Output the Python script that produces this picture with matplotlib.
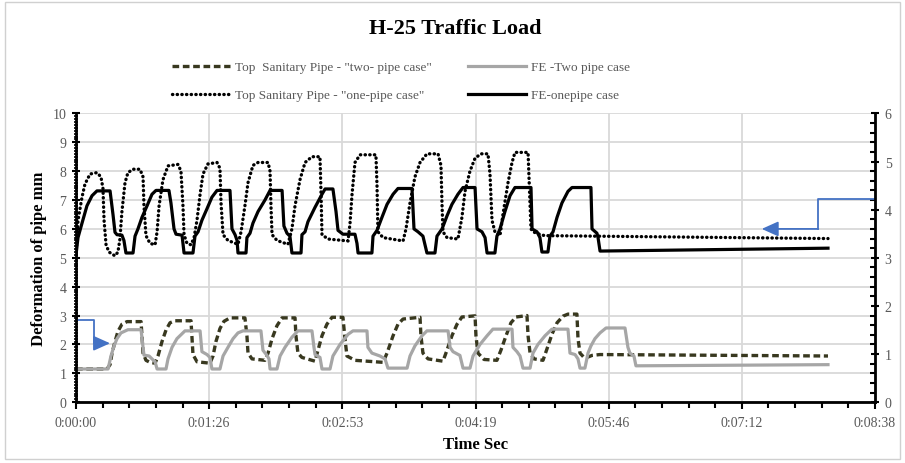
import matplotlib
matplotlib.use('Agg')
import matplotlib.pyplot as plt
from matplotlib.ticker import MultipleLocator, FuncFormatter
from matplotlib.patches import Rectangle

plt.rcParams['font.family'] = ['Liberation Serif', 'DejaVu Serif']

# 时间 (秒), 左轴数值 mm  —— two-pipe case (左轴)
t_two_top = [0.0, 20.1, 22.1, 23.4, 25.3, 27.2, 29.8, 33.1, 42.2, 42.8, 43.5, 45.4, 48.0, 51.3,
             53.2, 55.8, 58.4, 61.0, 64.2, 74.6, 75.3, 75.9, 78.5, 86.9, 88.9, 90.8, 93.4, 96.0,
             99.9, 109.6, 110.9, 111.6, 114.2, 122.6, 124.6, 127.2, 130.4, 133.7, 142.1, 142.7,
             144.0, 146.6, 155.1, 157.0, 159.6, 162.8, 166.1, 173.2, 174.5, 175.8, 181.0, 199.2,
             201.8, 205.7, 208.9, 212.2, 223.2, 223.8, 225.1, 228.4, 238.1, 240.7, 243.9, 247.2,
             250.4, 258.9, 259.5, 260.8, 264.7, 273.1, 275.7, 279.0, 282.2, 285.5, 292.6, 293.3,
             294.6, 297.2, 303.0, 305.6, 308.8, 312.1, 316.0, 319.2, 325.0, 325.7, 327.0, 329.6,
             331.5, 334.8, 340.0, 487.9]
v_two_top = [1.15, 1.15, 1.3, 1.7, 2.1, 2.45, 2.7, 2.79, 2.79, 2.3, 1.7, 1.45, 1.38, 1.35,
             1.6, 2.1, 2.5, 2.75, 2.82, 2.82, 2.2, 1.65, 1.4, 1.35, 1.6, 2.1, 2.55, 2.8,
             2.92, 2.92, 2.3, 1.7, 1.5, 1.45, 1.7, 2.2, 2.65, 2.92, 2.92, 2.3,
             1.7, 1.55, 1.42, 1.8, 2.3, 2.7, 2.94, 2.94, 2.2, 1.6, 1.45, 1.38,
             1.7, 2.3, 2.7, 2.88, 2.94, 2.3, 1.7, 1.5, 1.42, 1.8, 2.3, 2.7,
             2.95, 2.99, 2.3, 1.7, 1.48, 1.45, 1.8, 2.3, 2.75, 2.95, 3.0, 2.3,
             1.7, 1.5, 1.45, 1.85, 2.35, 2.75, 2.98, 3.05, 3.05, 2.2, 1.7, 1.55,
             1.55, 1.62, 1.65, 1.60]

t_two_fe = [0.0, 20.8, 22.7, 24.7, 26.6, 29.2, 33.7, 42.2, 43.5, 44.1, 47.4, 49.3, 51.3, 52.6,
            58.4, 59.7, 62.3, 65.5, 70.7, 80.5, 81.7, 85.0, 86.9, 88.2, 93.4, 95.4, 98.6, 101.9,
            105.1, 108.3, 120.0, 121.3, 123.9, 125.2, 125.9, 130.4, 132.4, 135.6, 140.1, 144.0,
            153.1, 154.4, 155.1, 158.3, 159.6, 164.8, 166.7, 171.3, 176.5, 179.7, 188.8, 189.4,
            192.0, 197.2, 200.5, 202.4, 214.8, 216.7, 219.9, 224.5, 227.7, 241.4, 242.7, 244.6,
            249.1, 251.1, 255.6, 257.6, 262.1, 266.7, 270.5, 282.9, 283.5, 286.1, 288.1, 290.0,
            294.6, 296.5, 299.7, 304.3, 308.8, 319.2, 320.5, 323.8, 325.7, 327.0, 330.2, 332.2,
            334.1, 336.7, 340.0, 343.9, 356.2, 358.1, 359.4, 362.0, 363.3, 487.9]
v_two_fe = [1.15, 1.15, 1.6, 1.95, 2.2, 2.4, 2.51, 2.51, 1.9, 1.63, 1.6, 1.5, 1.4, 1.15,
            1.15, 1.5, 1.9, 2.2, 2.47, 2.47, 1.75, 1.65, 1.55, 1.15, 1.15, 1.6, 1.9, 2.2,
            2.4, 2.47, 2.47, 1.8, 1.62, 1.5, 1.15, 1.15, 1.6, 1.9, 2.25, 2.47,
            2.47, 1.9, 1.65, 1.55, 1.15, 1.15, 1.6, 2.0, 2.35, 2.47, 2.47, 1.9,
            1.7, 1.6, 1.5, 1.18, 1.18, 1.6, 1.95, 2.3, 2.47, 2.47, 1.9, 1.75,
            1.62, 1.18, 1.18, 1.6, 2.0, 2.3, 2.53, 2.53, 1.9, 1.75, 1.6, 1.18,
            1.18, 1.7, 2.0, 2.3, 2.53, 2.53, 1.7, 1.65, 1.5, 1.18, 1.18, 1.7,
            1.95, 2.2, 2.4, 2.57, 2.57, 1.9, 1.7, 1.6, 1.26, 1.30]

# one-pipe case (右轴, 0-6)
t_one_top = [0.0, 1.3, 3.9, 5.8, 9.1, 13.6, 16.2, 17.5, 18.2, 19.5, 21.4, 25.3, 27.2, 28.5,
             29.8, 31.8, 33.7, 37.0, 41.5, 43.5, 44.1, 45.4, 48.0, 51.3, 52.6, 53.9, 56.4, 59.7,
             66.2, 68.1, 69.4, 70.1, 72.0, 74.6, 76.6, 78.5, 80.5, 82.4, 85.6, 91.5, 93.4, 94.1,
             95.4, 98.6, 105.1, 107.1, 109.6, 111.6, 114.8, 118.1, 124.6, 125.9, 126.5, 127.2,
             130.4, 137.5, 140.1, 142.1, 145.3, 148.6, 153.1, 158.3, 159.0, 159.6, 163.5, 176.5,
             177.8, 179.1, 181.0, 184.3, 194.6, 195.3, 195.9, 199.2, 212.2, 214.1, 216.7, 219.9,
             223.2, 227.7, 234.9, 236.8, 237.5, 238.1, 240.7, 247.8, 250.4, 252.4, 255.6, 258.9,
             262.8, 267.3, 268.6, 269.9, 271.8, 275.1, 277.0, 280.3, 282.9, 284.8, 293.3, 293.9,
             295.2, 296.5, 302.3, 305.6, 487.9]
v_one_top = [3.06, 3.78, 4.26, 4.53, 4.74, 4.77, 4.68, 4.44, 3.78, 3.27, 3.12, 3.04, 3.12, 3.39,
             3.96, 4.56, 4.77, 4.84, 4.84, 4.68, 4.08, 3.46, 3.30, 3.27, 3.54, 4.08, 4.62, 4.91,
             4.94, 4.80, 4.08, 3.48, 3.30, 3.27, 3.42, 3.78, 4.32, 4.74, 4.95, 4.98, 4.86, 4.14,
             3.48, 3.36, 3.28, 3.54, 4.08, 4.56, 4.92, 4.98, 4.98, 4.80, 4.08, 3.48,
             3.36, 3.28, 3.60, 4.08, 4.62, 4.98, 5.10, 5.10, 4.32, 3.48, 3.39, 3.35,
             3.72, 4.32, 4.98, 5.14, 5.14, 4.50, 3.54, 3.42, 3.35, 3.60, 4.14, 4.68,
             4.98, 5.16, 5.16, 4.92, 4.08, 3.54, 3.42, 3.39, 3.84, 4.38, 4.80, 5.07,
             5.16, 5.16, 4.74, 3.78, 3.54, 3.46, 3.90, 4.56, 4.98, 5.19, 5.19, 4.68,
             3.60, 3.54, 3.47, 3.46, 3.40]

t_one_fe = [0.0, 1.3, 3.9, 7.1, 10.4, 13.6, 22.1, 24.0, 25.3, 26.6, 29.8, 31.1, 32.4, 37.0,
            38.3, 40.2, 42.8, 46.1, 49.3, 51.9, 60.3, 61.6, 63.6, 64.9, 68.8, 70.1, 75.9, 77.2,
            79.2, 81.7, 85.0, 88.2, 91.5, 99.9, 101.2, 103.2, 104.5, 105.1, 110.3, 110.9, 112.9,
            114.8, 118.1, 122.6, 125.9, 133.7, 134.9, 136.9, 138.8, 140.1, 146.0, 146.6, 148.6,
            150.5, 155.1, 159.6, 161.6, 166.7, 168.7, 170.0, 173.2, 181.0, 182.3, 183.0, 192.0,
            192.7, 195.3, 198.5, 201.8, 205.7, 208.9, 218.0, 219.3, 221.9, 225.1, 227.7, 232.9,
            234.2, 237.5, 240.7, 243.9, 247.8, 251.1, 258.9, 260.2, 263.4, 265.4, 266.7, 271.8,
            273.1, 275.1, 278.3, 281.6, 284.8, 295.2, 295.9, 299.1, 301.0, 302.3, 306.2, 307.5,
            309.5, 312.1, 315.3, 319.2, 321.8, 334.1, 334.8, 338.0, 338.7, 340.0, 487.9]
v_one_fe = [3.06, 3.42, 3.72, 4.08, 4.29, 4.39, 4.39, 3.90, 3.53, 3.48, 3.47, 3.36, 3.10, 3.10,
            3.45, 3.60, 3.84, 4.08, 4.32, 4.40, 4.40, 4.14, 3.60, 3.49, 3.47, 3.10, 3.10, 3.45,
            3.54, 3.78, 4.02, 4.26, 4.40, 4.40, 3.60, 3.48, 3.36, 3.10, 3.10, 3.42, 3.51,
            3.72, 3.96, 4.20, 4.40, 4.40, 3.66, 3.51, 3.45, 3.10, 3.10, 3.48, 3.54,
            3.75, 4.05, 4.32, 4.43, 4.43, 3.96, 3.57, 3.49, 3.49, 3.30, 3.10, 3.10,
            3.45, 3.57, 3.84, 4.11, 4.32, 4.44, 4.44, 3.60, 3.54, 3.45, 3.10, 3.10,
            3.45, 3.60, 3.87, 4.11, 4.32, 4.46, 4.46, 3.60, 3.54, 3.42, 3.10, 3.10,
            3.45, 3.60, 3.96, 4.29, 4.46, 4.46, 3.60, 3.54, 3.42, 3.12, 3.12, 3.45,
            3.54, 3.84, 4.14, 4.38, 4.46, 4.46, 3.60, 3.51, 3.42, 3.14, 3.20]

x_ticks = [0, 86.4, 172.8, 259.2, 345.6, 432.0, 518.4]

label_two_top = 'Top  Sanitary Pipe - "two- pipe case"'
label_one_top = 'Top Sanitary Pipe - "one-pipe case"'
label_two_fe = 'FE -Two pipe case'
label_one_fe = 'FE-onepipe case'

TICK_COLOR = '#595959'
BLUE = '#4472C4'


def fmt_time(t, pos=None):
    s = int(round(t))
    return f"{s // 3600}:{(s // 60) % 60:02d}:{s % 60:02d}"


fig = plt.figure(figsize=(9.05, 4.64), dpi=100)
fig.patches.append(Rectangle((0.005, 0.008), 0.99, 0.985, transform=fig.transFigure,
                             fill=False, edgecolor='#d0d0d0', lw=1.0))

ax = fig.add_axes([76 / 905, (464 - 403.2) / 464, (875 - 76) / 905, (403.2 - 114.4) / 464])
ax2 = ax.twinx()

l1, = ax.plot(t_two_top, v_two_top, color='#38381f', lw=2.4, ls=(0, (2.0, 1.1)),
              dash_capstyle='butt', label=label_two_top)
l2, = ax.plot(t_two_fe, v_two_fe, color='#a6a6a6', lw=2.3, label=label_two_fe)
l3, = ax2.plot(t_one_top, v_one_top, color='black', lw=2.4, ls=(0, (0.1, 1.3)),
               dash_capstyle='round', label=label_one_top)
l4, = ax2.plot(t_one_fe, v_one_fe, color='black', lw=2.3, label=label_one_fe)

ax.set_xlim(0, 518.4)
ax.set_ylim(0, 10)
ax2.set_ylim(0, 6)

ax.set_xticks(x_ticks)
ax.xaxis.set_minor_locator(MultipleLocator(17.28))
ax.xaxis.set_major_formatter(FuncFormatter(fmt_time))
ax.yaxis.set_major_locator(MultipleLocator(1))
ax.yaxis.set_minor_locator(MultipleLocator(0.1))
ax2.yaxis.set_major_locator(MultipleLocator(1))
ax2.yaxis.set_minor_locator(MultipleLocator(0.2))

ax.grid(which='major', color='#d9d9d9', lw=1.3)
ax.set_axisbelow(True)

for a in (ax, ax2):
    a.spines['top'].set_visible(False)
ax.spines['right'].set_visible(False)
ax2.spines['left'].set_visible(False)
ax2.spines['bottom'].set_visible(False)
ax.spines['left'].set_linewidth(2)
ax.spines['bottom'].set_linewidth(2)
ax2.spines['right'].set_linewidth(2)

ax.tick_params(axis='x', which='major', direction='out', length=5, width=1.5,
               labelsize=10, labelcolor=TICK_COLOR, pad=5)
ax.tick_params(axis='x', which='minor', direction='out', length=4, width=1.5)
ax.tick_params(axis='y', which='major', direction='inout', length=6, width=1.5,
               labelsize=10, labelcolor=TICK_COLOR, pad=4)
ax.tick_params(axis='y', which='minor', direction='inout', length=3.5, width=1.2)
ax2.tick_params(axis='y', which='major', direction='inout', length=6, width=1.5,
                labelsize=10, labelcolor=TICK_COLOR, pad=4)
ax2.tick_params(axis='y', which='minor', direction='in', length=3.5, width=1.5)

ax.set_xlabel('Time Sec', fontsize=12, fontweight='bold', labelpad=5)
ax.set_ylabel('Deformation of pipe mm', fontsize=12, fontweight='bold', labelpad=4)

# 蓝色箭头: two-pipe 对应左轴, one-pipe 对应右轴
ax.plot([0, 11.9, 11.9], [2.85, 2.85, 2.04], color=BLUE, lw=1.3, clip_on=False)
ax.annotate('', xy=(22.1, 2.04), xytext=(11.9, 2.04),
            arrowprops=dict(arrowstyle='-|>,head_length=1.0,head_width=0.45',
                            color=BLUE, lw=1.3, shrinkA=0, shrinkB=0))
ax2.plot([518.4, 481.6, 481.6], [4.23, 4.23, 3.60], color=BLUE, lw=1.3, clip_on=False)
ax2.annotate('', xy=(444.9, 3.60), xytext=(481.6, 3.60),
             arrowprops=dict(arrowstyle='-|>,head_length=1.0,head_width=0.45',
                             color=BLUE, lw=1.3, shrinkA=0, shrinkB=0))

fig.text(0.503, 1 - 29 / 464, 'H-25 Traffic Load', ha='center', va='center',
         fontsize=16, fontweight='bold')

leg = fig.legend(handles=[l1, l3, l2, l4], ncol=2, loc='upper left',
                 bbox_to_anchor=(172 / 905, 1 - 62 / 464), frameon=False,
                 fontsize=9.5, handlelength=4.4, handletextpad=0.4, columnspacing=2.7,
                 labelspacing=1.2, borderpad=0, borderaxespad=0)
for txt in leg.get_texts():
    txt.set_color(TICK_COLOR)

fig.savefig('out.png', dpi=100)
